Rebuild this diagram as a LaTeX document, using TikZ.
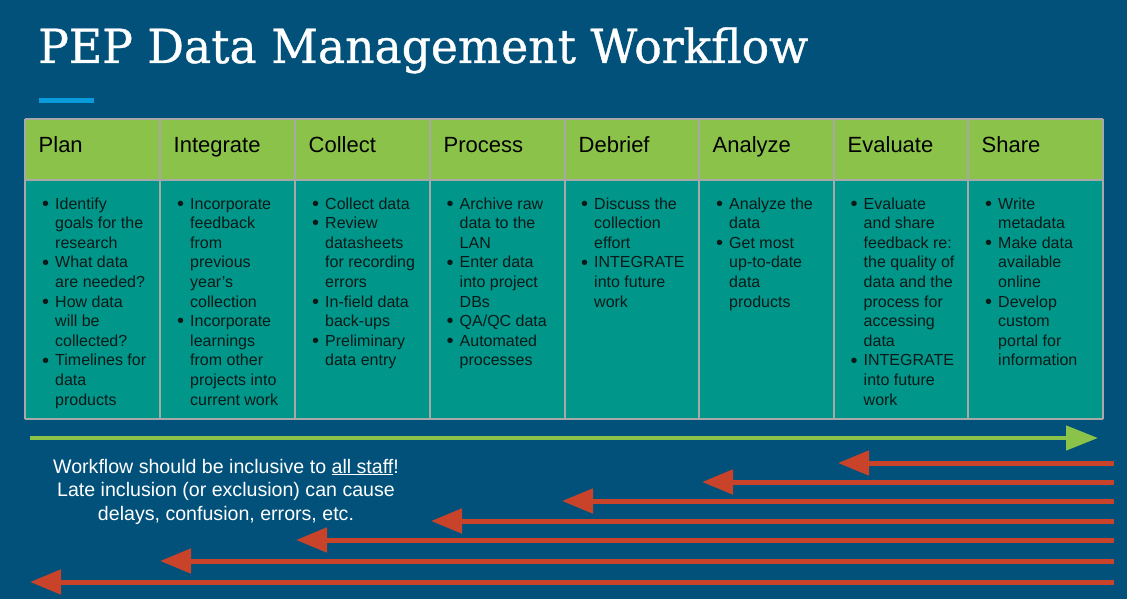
\documentclass[tikz,border=0pt]{standalone}
\usepackage{fontspec}
\setmainfont{Liberation Sans}
\newfontfamily\titlefont[FakeBold=0.8]{DejaVu Serif}
\usetikzlibrary{arrows.meta}
\definecolor{bgblue}{HTML}{02517B}
\definecolor{hdrgreen}{HTML}{8BC34A}
\definecolor{bodyteal}{HTML}{00968A}
\definecolor{gridgray}{HTML}{A8A8A8}
\definecolor{arrred}{HTML}{C9432A}
\definecolor{accentblue}{HTML}{0A9BDB}
\definecolor{bodyink}{HTML}{0A1A18}
\newlength\titlewd
\newcommand\bpt{\llap{\raisebox{-1.3pt}{\scalebox{1.25}{\textbullet}}\hspace{6pt}}}
\newcommand\titletext{\titlefont\fontsize{47}{50}\selectfont PEP Data Management Workflow}
\AtBeginDocument{\settowidth\titlewd{\titletext}}
\begin{document}
\begin{tikzpicture}[x=1pt,y=-1pt,
  hdr/.style={fill=hdrgreen,minimum height=61pt,anchor=north west,inner sep=0pt,outer sep=0pt},
  body/.style={fill=bodyteal,minimum height=239pt,anchor=north west,inner sep=0pt,outer sep=0pt},
  grid/.style={draw=gridgray,line width=1.8pt},
  hdrtext/.style={anchor=base west,inner sep=0pt,text=black,font=\fontsize{22}{26}\selectfont},
  bodytext/.style={anchor=base west,inner sep=0pt,text=bodyink,font=\fontsize{16}{19.6}\selectfont},
  fwd/.style={draw=hdrgreen,line width=4.5pt,-{Triangle[length=32pt,width=24pt]}},
  back/.style={draw=arrred,line width=5pt,-{Triangle[length=31pt,width=24pt]}},
]
\fill[bgblue] (0,0) rectangle (1127,599);
\useasboundingbox (0,0) rectangle (1127,599);

% title
\pgfmathsetmacro\tsx{770/\titlewd}
\node[anchor=base west,inner sep=0pt,text=white] (title) at (38,63)
  {\scalebox{\tsx}[1]{\titletext}};
\fill[accentblue] (39,98.5) rectangle (94,103.5);

% table cells
\foreach \name/\xa/\xb [count=\i from 0] in {Plan/25/160,Integrate/160/295,Collect/295/430,Process/430/565,Debrief/565/699,Analyze/699/834,Evaluate/834/968,Share/968/1103}{
  \pgfmathsetmacro\ww{\xb-\xa}
  \node[hdr,minimum width=\ww pt] (h\i) at (\xa,119) {};
  \node[body,minimum width=\ww pt] (b\i) at (\xa,180) {};
}
% grid lines
\foreach \i in {0,...,7}{
  \draw[grid] (h\i.north west) -- (b\i.south west);
}
\draw[grid] (h7.north east) -- (b7.south east);
\draw[grid] (h0.north west) -- (h7.north east);
\draw[grid] (b0.north west) -- (b7.north east);
\draw[grid] (b0.south west) -- (b7.south east);
% header labels
\foreach \name/\xa [count=\i from 0] in {Plan/25,Integrate/160,Collect/295,Process/430,Debrief/565,Analyze/699,Evaluate/834,Share/968}{
  \node[hdrtext] (ht\i) at (\xa+13.5,153) {\name};
}

% body texts
\node[bodytext] (t0) at (55,209) {\begin{tabular}[t]{@{}l@{}}
\bpt Identify\\ goals for the\\ research\\
\bpt What data\\ are needed?\\
\bpt How data\\ will be\\ collected?\\
\bpt Timelines for\\ data\\ products\end{tabular}};
\node[bodytext] (t1) at (190,209) {\begin{tabular}[t]{@{}l@{}}
\bpt Incorporate\\ feedback\\ from\\ previous\\ year’s\\ collection\\
\bpt Incorporate\\ learnings\\ from other\\ projects into\\ current work\end{tabular}};
\node[bodytext] (t2) at (325,209) {\begin{tabular}[t]{@{}l@{}}
\bpt Collect data\\
\bpt Review\\ datasheets\\ for recording\\ errors\\
\bpt In-field data\\ back-ups\\
\bpt Preliminary\\ data entry\end{tabular}};
\node[bodytext] (t3) at (459.5,209) {\begin{tabular}[t]{@{}l@{}}
\bpt Archive raw\\ data to the\\ LAN\\
\bpt Enter data\\ into project\\ DBs\\
\bpt QA/QC data\\
\bpt Automated\\ processes\end{tabular}};
\node[bodytext] (t4) at (594,209) {\begin{tabular}[t]{@{}l@{}}
\bpt Discuss the\\ collection\\ effort\\
\bpt INTEGRATE\\ into future\\ work\end{tabular}};
\node[bodytext] (t5) at (729,209) {\begin{tabular}[t]{@{}l@{}}
\bpt Analyze the\\ data\\
\bpt Get most\\ up-to-date\\ data\\ products\end{tabular}};
\node[bodytext] (t6) at (863.5,209) {\begin{tabular}[t]{@{}l@{}}
\bpt Evaluate\\ and share\\ feedback re:\\ the quality of\\ data and the\\ process for\\ accessing\\ data\\
\bpt INTEGRATE\\ into future\\ work\end{tabular}};
\node[bodytext] (t7) at (998,209) {\begin{tabular}[t]{@{}l@{}}
\bpt Write\\ metadata\\
\bpt Make data\\ available\\ online\\
\bpt Develop\\ custom\\ portal for\\ information\end{tabular}};

% forward arrow
\coordinate (g0) at (30,438);
\coordinate (g1) at (1098,438);
\draw[fwd] (g0) -- (g1);

% feedback arrows
\foreach \yy/\tt [count=\k] in {463/838,482/702,501/562,521/431,540/296,561/160,582/30}{
  \coordinate (rs\k) at (1114,\yy);
  \coordinate (re\k) at (\tt,\yy);
  \draw[back] (rs\k) -- (re\k);
}

% note
\node[anchor=base,inner sep=0pt,text=white,font=\fontsize{19.6}{23.5}\selectfont] (note) at (226,473)
  {\begin{tabular}[t]{@{}c@{}}Workflow should be inclusive to \underline{all staff}!\\
   Late inclusion (or exclusion) can cause\\ delays, confusion, errors, etc.\end{tabular}};
\end{tikzpicture}
\end{document}
